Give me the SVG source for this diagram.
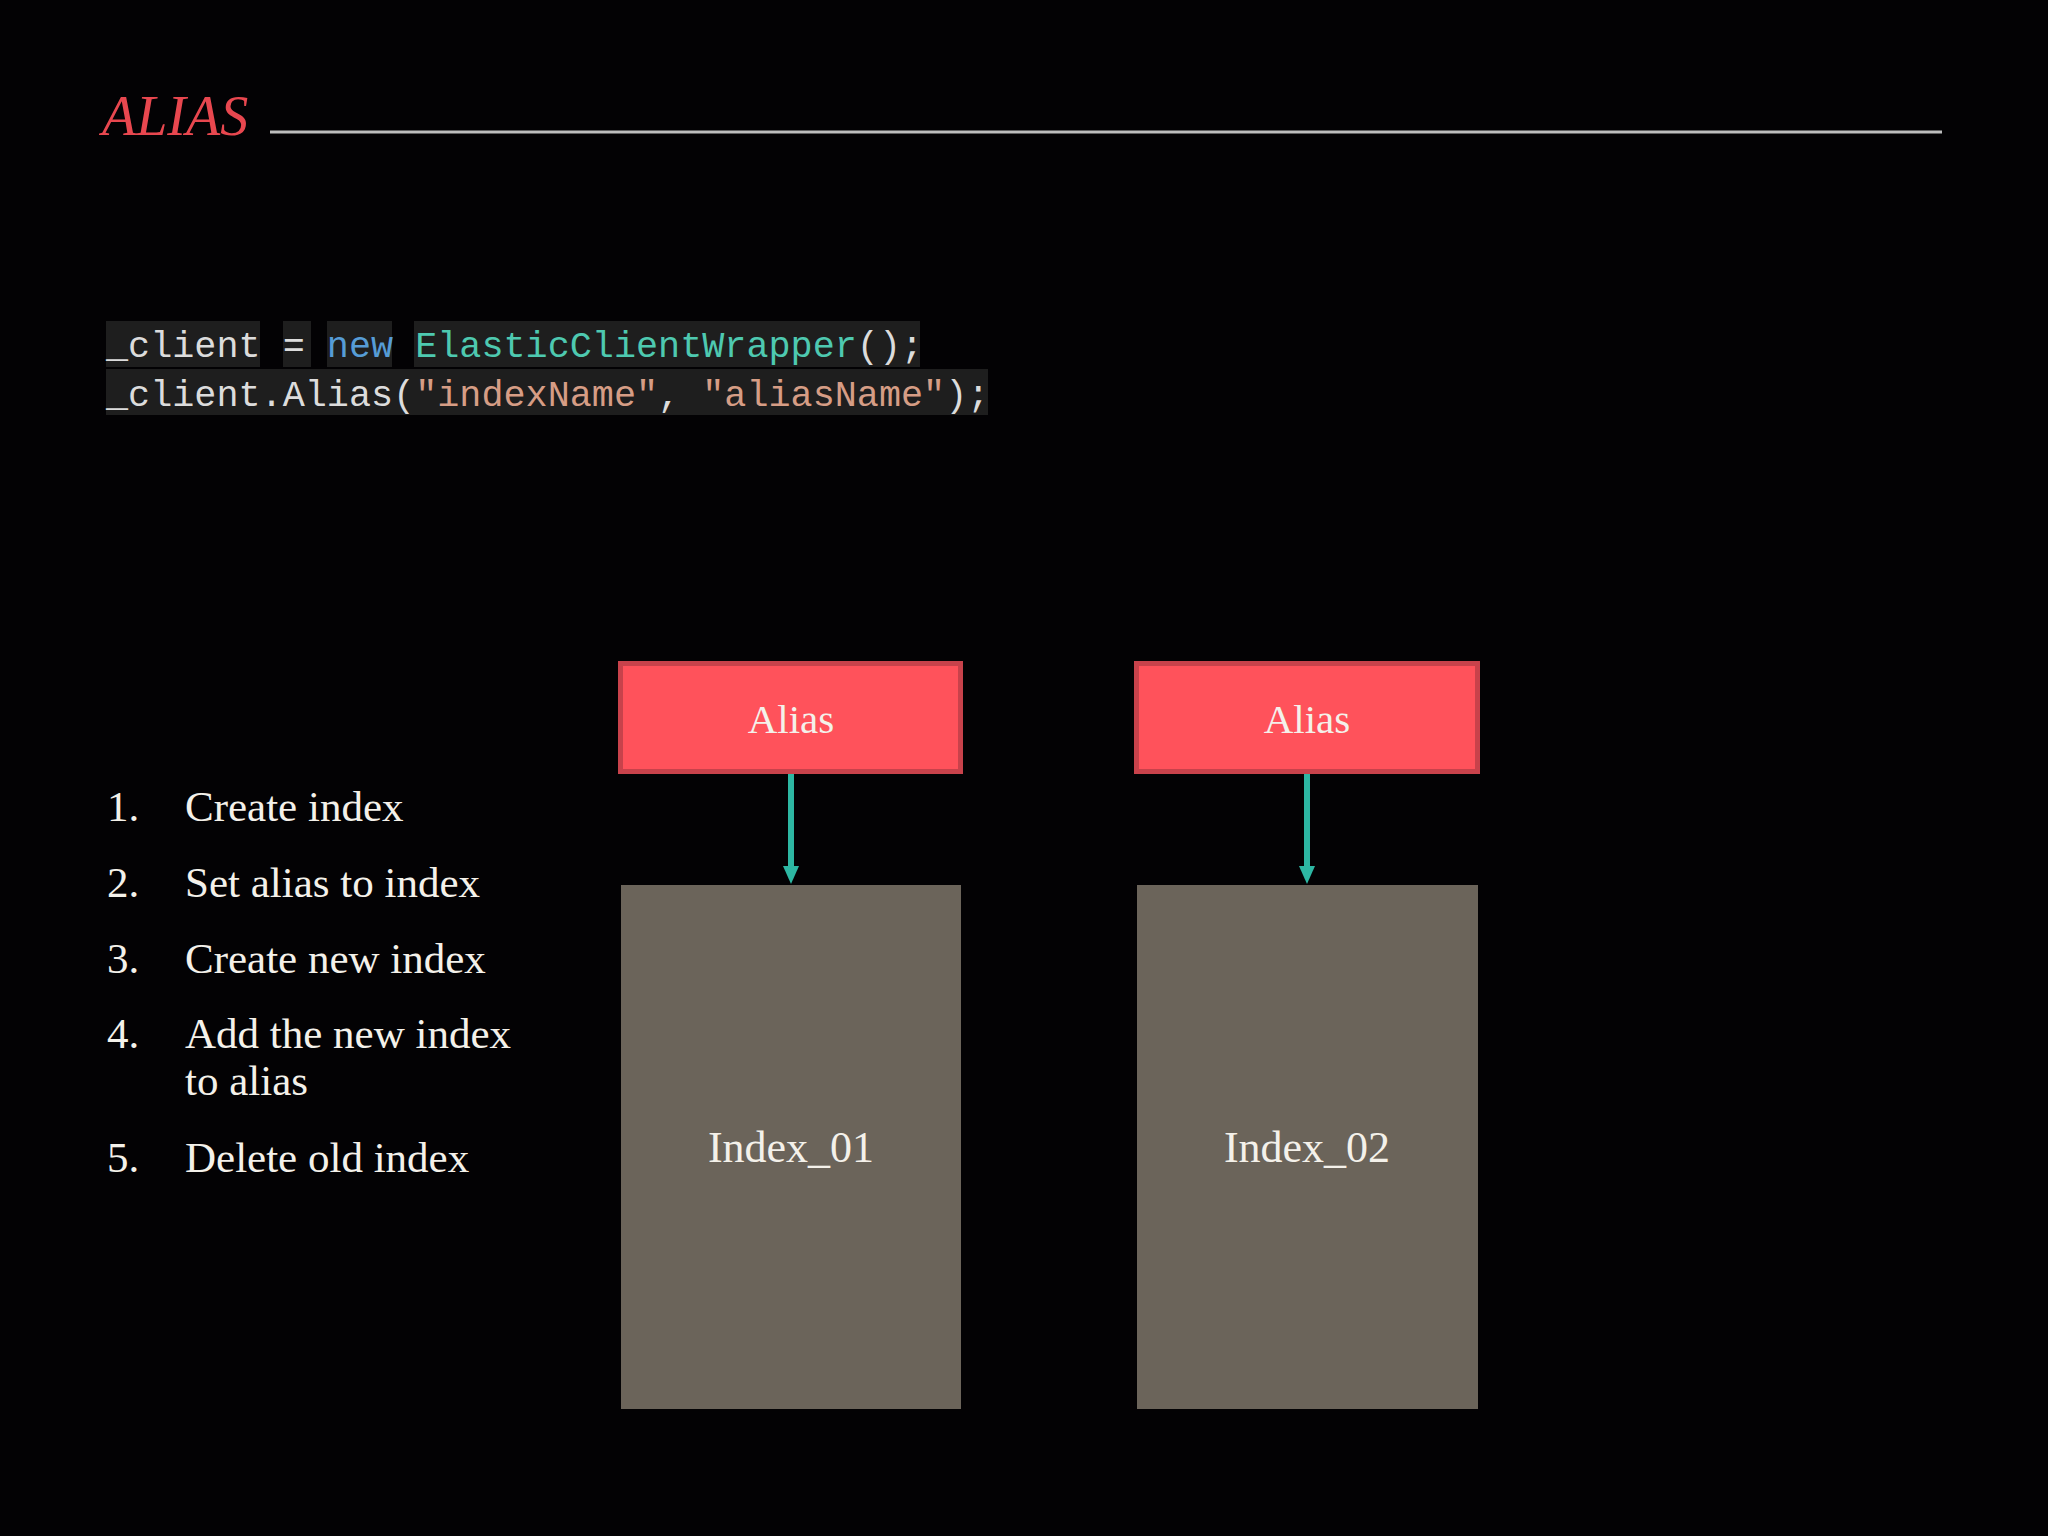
<svg xmlns="http://www.w3.org/2000/svg" width="2048" height="1536" viewBox="0 0 2048 1536">
<defs>
<style>
.serif{font-family:"Liberation Serif","DejaVu Serif",serif;fill:#f4f1ea}
.code{font-family:"Liberation Mono","DejaVu Sans Mono",monospace;font-size:36.8px;fill:#dcdcdc}
.hl{fill:#1e1e1e}
.alias rect{fill:#ff525b;stroke:#c8424b;stroke-width:5}
.index rect{fill:#6b645a}
.lbl{font-size:41px;text-anchor:middle}
.list{font-size:43px}
</style>
</defs>
<rect width="2048" height="1536" fill="#030204"/>
<g id="title">
<text x="102" y="135" font-family="Liberation Serif,serif" font-style="italic" font-size="56" fill="#e8474f">ALIAS</text>
<line x1="270" y1="132" x2="1942" y2="132" stroke="#bdbdbd" stroke-width="3"/>
</g>
<g id="code">
<rect class="hl" x="106" y="321" width="154" height="46"/>
<rect class="hl" x="283" y="321" width="28" height="46"/>
<rect class="hl" x="327" y="321" width="65" height="46"/>
<rect class="hl" x="414" y="321" width="506" height="46"/>
<rect class="hl" x="106" y="369" width="882" height="46"/>
<text class="code" x="106" y="357" xml:space="preserve">_client = <tspan fill="#569cd6">new</tspan> <tspan fill="#4ec9b0">ElasticClientWrapper</tspan>();</text>
<text class="code" x="106" y="406" xml:space="preserve">_client.Alias(<tspan fill="#d69d85">"indexName"</tspan>, <tspan fill="#d69d85">"aliasName"</tspan>);</text>
</g>
<g id="steps" class="serif list">
<text x="107" y="821">1.</text><text x="185" y="821">Create index</text>
<text x="107" y="897">2.</text><text x="185" y="897">Set alias to index</text>
<text x="107" y="973">3.</text><text x="185" y="973">Create new index</text>
<text x="107" y="1048">4.</text><text x="185" y="1048">Add the new index</text>
<text x="185" y="1095">to alias</text>
<text x="107" y="1172">5.</text><text x="185" y="1172">Delete old index</text>
</g>
<g id="alias1" class="alias">
<rect x="620.5" y="663.5" width="340" height="108"/>
<text class="serif lbl" x="791" y="733">Alias</text>
</g>
<g id="alias2" class="alias">
<rect x="1136.5" y="663.5" width="341" height="108"/>
<text class="serif lbl" x="1307" y="733">Alias</text>
</g>
<g id="index1" class="index">
<rect x="621" y="885" width="340" height="524"/>
<text class="serif lbl" x="791" y="1162" style="font-size:44px">Index_01</text>
</g>
<g id="index2" class="index">
<rect x="1137" y="885" width="341" height="524"/>
<text class="serif lbl" x="1307" y="1162" style="font-size:44px">Index_02</text>
</g>
<g id="connectors" stroke="#2db7a3" stroke-width="6" fill="#2db7a3">
<line x1="791" y1="774" x2="791" y2="868"/>
<path d="M783,866 L799,866 L791,884 Z" stroke="none"/>
<line x1="1307" y1="774" x2="1307" y2="868"/>
<path d="M1299,866 L1315,866 L1307,884 Z" stroke="none"/>
</g>
</svg>
